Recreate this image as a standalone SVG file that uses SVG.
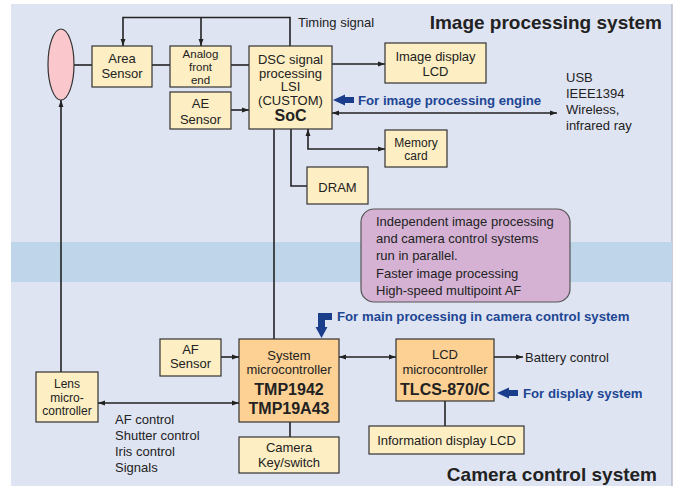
<svg xmlns="http://www.w3.org/2000/svg" width="676" height="486" viewBox="0 0 676 486">
<defs>
<marker id="ah" viewBox="0 0 10 10" refX="10" refY="5" markerWidth="7" markerHeight="7" markerUnits="userSpaceOnUse" orient="auto-start-reverse"><path d="M0,1.5 L10,5 L0,8.5 Z" fill="#222"/></marker>
<style>
.box{fill:#fdeec3;stroke:#333;stroke-width:1.2}
.org{fill:#fdd093;stroke:#333;stroke-width:1.2}
.ln{fill:none;stroke:#222;stroke-width:1.6}
.t{font-family:"Liberation Sans",Arial,sans-serif;font-size:13px;fill:#222;text-anchor:middle}
.ts{font-family:"Liberation Sans",Arial,sans-serif;font-size:12px;fill:#222;text-anchor:middle}
.tx{font-family:"Liberation Sans",Arial,sans-serif;font-size:11.5px;fill:#222;text-anchor:middle}
.tm{font-family:"Liberation Sans",Arial,sans-serif;font-size:12.5px;fill:#222;text-anchor:middle}
.tl{font-family:"Liberation Sans",Arial,sans-serif;font-size:13px;fill:#222}
.b{font-family:"Liberation Sans",Arial,sans-serif;font-size:16px;font-weight:bold;fill:#222;text-anchor:middle}
.blue{font-family:"Liberation Sans",Arial,sans-serif;font-size:13.2px;font-weight:bold;fill:#1d4694}
.ttl{font-family:"Liberation Sans",Arial,sans-serif;font-size:19px;font-weight:bold;fill:#222}
.ba{fill:#1a3d8c}
</style>
</defs>
<rect x="0" y="0" width="676" height="486" fill="#ffffff"/>
<rect x="11" y="4" width="661" height="482" fill="#dfe4f2"/>
<line x1="672" y1="4" x2="672" y2="486" stroke="#b8bccb" stroke-width="1.5"/>
<rect x="11" y="242" width="661" height="40" fill="#bfd5ea"/>

<text class="ttl" x="662" y="29" text-anchor="end">Image processing system</text>
<text class="ttl" x="657" y="481" text-anchor="end">Camera control system</text>

<g id="connectors">
<line class="ln" x1="74" y1="65" x2="92" y2="65"/>
<line class="ln" x1="152" y1="65" x2="170" y2="65"/>
<line class="ln" x1="231" y1="65" x2="249" y2="65"/>
<path class="ln" d="M290,46 V17.5 H123 V46" marker-end="url(#ah)"/>
<line class="ln" x1="201" y1="17.5" x2="201" y2="46" marker-end="url(#ah)"/>
<line class="ln" x1="231" y1="110" x2="249" y2="110" marker-end="url(#ah)"/>
<line class="ln" x1="332" y1="64" x2="385" y2="64" marker-end="url(#ah)"/>
<line class="ln" x1="332" y1="113" x2="557" y2="113" marker-start="url(#ah)" marker-end="url(#ah)"/>
<path class="ln" d="M385,149 H308 V129" marker-start="url(#ah)" marker-end="url(#ah)"/>
<path class="ln" d="M291,129 V186 H307"/>
<line class="ln" x1="274" y1="129" x2="274" y2="339"/>
<line class="ln" x1="61" y1="372" x2="61" y2="100" marker-end="url(#ah)"/>
<line class="ln" x1="221" y1="357" x2="239" y2="357" marker-end="url(#ah)"/>
<line class="ln" x1="98" y1="403" x2="239" y2="403" marker-start="url(#ah)" marker-end="url(#ah)"/>
<line class="ln" x1="290" y1="422" x2="290" y2="437"/>
<line class="ln" x1="339" y1="357" x2="396" y2="357" marker-start="url(#ah)" marker-end="url(#ah)"/>
<line class="ln" x1="494" y1="357" x2="523" y2="357" marker-end="url(#ah)"/>
<line class="ln" x1="445" y1="401" x2="445" y2="426"/>
</g>

<g id="lens">
<ellipse cx="61" cy="64.5" rx="13" ry="35.5" fill="#f9c7cc" stroke="#333" stroke-width="1.2"/>
</g>
<g id="area-sensor">
<rect class="box" x="92" y="46" width="60" height="41"/>
<text class="t" x="122" y="63">Area</text>
<text class="t" x="122" y="78">Sensor</text>
</g>
<g id="analog-front-end">
<rect class="box" x="170" y="46" width="61" height="41"/>
<text class="tx" x="200.5" y="58">Analog</text>
<text class="tx" x="200.5" y="70.8">front</text>
<text class="tx" x="200.5" y="83.6">end</text>
</g>
<g id="ae-sensor">
<rect class="box" x="170" y="92" width="61" height="37"/>
<text class="t" x="200.5" y="108">AE</text>
<text class="t" x="200.5" y="124">Sensor</text>
</g>
<g id="dsc">
<rect class="box" x="249" y="46" width="83" height="83"/>
<text class="t" x="290.5" y="63.5">DSC signal</text>
<text class="t" x="290.5" y="77.5">processing</text>
<text class="t" x="290.5" y="91">LSI</text>
<text class="t" x="290.5" y="104.5">(CUSTOM)</text>
<text class="b" x="290.5" y="121">SoC</text>
</g>
<text class="tl" x="298" y="27">Timing signal</text>
<g id="image-display-lcd">
<rect class="box" x="385" y="43" width="101" height="40"/>
<text class="t" x="435.5" y="60.5">Image display</text>
<text class="t" x="435.5" y="75.5">LCD</text>
</g>
<g id="memory-card">
<rect class="box" x="385" y="130" width="62" height="37"/>
<text class="ts" x="416" y="146.5">Memory</text>
<text class="ts" x="416" y="159.5">card</text>
</g>
<g id="dram">
<rect class="box" x="307" y="167" width="61" height="37"/>
<text class="t" x="337.5" y="191.5">DRAM</text>
</g>
<g id="usb-label">
<text class="tl" x="566" y="82">USB</text>
<text class="tl" x="566" y="98">IEEE1394</text>
<text class="tl" x="566" y="114">Wireless,</text>
<text class="tl" x="566" y="130">infrared ray</text>
</g>
<g id="image-engine-note">
<path class="ba" d="M333,100 L345,94.5 V97 H354 V103 H345 V105.5 Z"/>
<text class="blue" x="358" y="105">For image processing engine</text>
</g>
<g id="parallel-note">
<rect x="361" y="209" width="209" height="93" rx="13" ry="13" fill="#d5b2d4" stroke="#555" stroke-width="1.2"/>
<text class="tl" x="376" y="226">Independent image processing</text>
<text class="tl" x="376" y="243">and camera control systems</text>
<text class="tl" x="376" y="260">run in parallel.</text>
<text class="tl" x="376" y="278">Faster image processing</text>
<text class="tl" x="376" y="295">High-speed multipoint AF</text>
</g>
<g id="main-processing-note">
<path class="ba" d="M332,313 V320 H325 V327 H327.5 L321.5,338 L315.5,327 H318 V313 Z"/>
<text class="blue" x="337" y="321">For main processing in camera control system</text>
</g>
<g id="lens-mc">
<rect class="box" x="36" y="372" width="62" height="50"/>
<text class="ts" x="67" y="388">Lens</text>
<text class="ts" x="67" y="401.5">micro-</text>
<text class="ts" x="67" y="415">controller</text>
</g>
<g id="af-sensor">
<rect class="box" x="160" y="339" width="61" height="37"/>
<text class="t" x="190.5" y="354">AF</text>
<text class="t" x="190.5" y="368">Sensor</text>
</g>
<g id="system-mc">
<rect class="org" x="239" y="339" width="100" height="83"/>
<text class="t" x="289" y="359.5">System</text>
<text class="t" x="289" y="373.5">microcontroller</text>
<text class="b" x="289" y="394.5">TMP1942</text>
<text class="b" x="289" y="413.5">TMP19A43</text>
</g>
<g id="af-control-label">
<text class="tl" x="115" y="424">AF control</text>
<text class="tl" x="115" y="440">Shutter control</text>
<text class="tl" x="115" y="456">Iris control</text>
<text class="tl" x="115" y="472">Signals</text>
</g>
<g id="camera-key">
<rect class="box" x="239" y="437" width="100" height="36"/>
<text class="t" x="289" y="451.5">Camera</text>
<text class="t" x="289" y="466.5">Key/switch</text>
</g>
<g id="lcd-mc">
<rect class="org" x="396" y="339" width="98" height="62"/>
<text class="t" x="445" y="358.5">LCD</text>
<text class="t" x="445" y="373.5">microcontroller</text>
<text class="b" x="445" y="394.5">TLCS-870/C</text>
</g>
<text class="tl" x="525" y="362">Battery control</text>
<g id="display-note">
<path class="ba" d="M497,393 L509,387.5 V390 H518 V396 H509 V398.5 Z"/>
<text class="blue" x="523" y="398">For display system</text>
</g>
<g id="info-lcd">
<rect class="box" x="369" y="426" width="155" height="28"/>
<text class="t" x="446.5" y="444.5">Information display LCD</text>
</g>
</svg>
